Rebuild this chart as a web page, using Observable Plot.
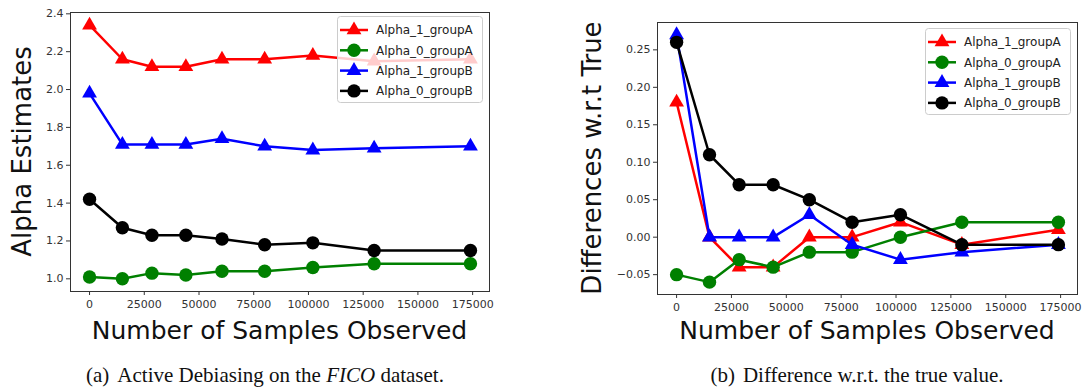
<!DOCTYPE html>
<html><head><meta charset="utf-8">
<script src="https://cdn.jsdelivr.net/npm/d3@7"></script>
<script src="https://cdn.jsdelivr.net/npm/@observablehq/plot@0.6"></script>
<style>
html,body{margin:0;padding:0;background:#fff;}
#wrap{position:relative;width:1084px;height:392px;overflow:hidden;background:#fff;font-family:"DejaVu Sans",sans-serif;}
.abs{position:absolute;}
</style></head><body><div id="wrap"></div>
<script>
// ---- data ----
const samples = [0, 15000, 28500, 44000, 60500, 80000, 102000, 130000, 174000];
const seriesNames = ["Alpha_1_groupA", "Alpha_0_groupA", "Alpha_1_groupB", "Alpha_0_groupB"];
// panel (a): alpha estimates
const alpha1A = [2.34, 2.16, 2.12, 2.12, 2.16, 2.16, 2.18, 2.15, 2.16];
const alpha0A = [1.01, 1.00, 1.03, 1.02, 1.04, 1.04, 1.06, 1.08, 1.08];
const alpha1B = [1.98, 1.71, 1.71, 1.71, 1.74, 1.70, 1.68, 1.69, 1.70];
const alpha0B = [1.42, 1.27, 1.23, 1.23, 1.21, 1.18, 1.19, 1.15, 1.15];
// panel (b): differences w.r.t. true value
const diff1A = [0.18, 0.00, -0.04, -0.04, 0.00, 0.00, 0.02, -0.01, 0.01];
const diff0A = [-0.05, -0.06, -0.03, -0.04, -0.02, -0.02, 0.00, 0.02, 0.02];
const diff1B = [0.27, 0.00, 0.00, 0.00, 0.03, -0.01, -0.03, -0.02, -0.01];
const diff0B = [0.26, 0.11, 0.07, 0.07, 0.05, 0.02, 0.03, -0.01, -0.01];
// ticks
const xTicks = [0, 25000, 50000, 75000, 100000, 125000, 150000, 175000];
const leftYTicks = [1.0, 1.2, 1.4, 1.6, 1.8, 2.0, 2.2, 2.4];
const rightYTicks = [-0.05, 0.00, 0.05, 0.10, 0.15, 0.20, 0.25];
// texts
const xTitle = "Number of Samples Observed";
const leftYTitle = "Alpha Estimates";
const rightYTitle = "Differences w.r.t True";

// ---- styles ----
const seriesColors = ["red", "green", "blue", "black"];
const seriesSymbols = ["triangle", "circle", "triangle", "circle"];
const symR = {triangle: 5.5, circle: 6.7};

function padExtent(vals) {
  const lo = d3.min(vals), hi = d3.max(vals), s = (hi - lo) * 0.05;
  return [lo - s, hi + s];
}
const fmtMinus = (d, k) => (d < -1e-12 ? "\u2212" : "") + Math.abs(d).toFixed(k);

function makePlot(values, yTicks, yDigits, width, height, m) {
  const table = seriesNames.flatMap((name, i) => values[i].map((v, j) => ({series: name, x: samples[j], y: v})));
  const marks = [];
  seriesNames.forEach((name, i) => {
    const d = table.filter(r => r.series === name);
    marks.push(Plot.line(d, {x: "x", y: "y", stroke: seriesColors[i], strokeWidth: 2.5, strokeLinejoin: "round"}));
    marks.push(Plot.dot(d, {x: "x", y: "y", fill: seriesColors[i], stroke: "none", symbol: seriesSymbols[i], r: symR[seriesSymbols[i]]}));
  });
  marks.push(Plot.frame({stroke: "#333", strokeWidth: 1}));
  marks.push(Plot.axisX({ticks: xTicks, tickFormat: d => String(d), tickSize: 4, tickPadding: 5, label: null}));
  marks.push(Plot.axisY({ticks: yTicks, tickFormat: d => fmtMinus(d, yDigits), tickSize: 4, tickPadding: 3, label: null}));
  return Plot.plot({
    width, height,
    marginLeft: m[0], marginRight: m[1], marginTop: m[2], marginBottom: m[3],
    x: {domain: padExtent(samples)},
    y: {domain: padExtent(values.flat())},
    style: {fontFamily: "DejaVu Sans", fontSize: "11px", color: "#333", background: "white", overflow: "visible"},
    marks
  });
}

const wrap = document.getElementById("wrap");

const left = makePlot([alpha1A, alpha0A, alpha1B, alpha0B], leftYTicks, 1, 540, 320, [70, 51, 12, 29]);
left.classList.add("abs"); left.style.left = "0px"; left.style.top = "0px";
wrap.appendChild(left);

const right = makePlot([diff1A, diff0A, diff1B, diff0B], rightYTicks, 2, 544, 320, [117, 7, 22, 26]);
right.classList.add("abs"); right.style.left = "540px"; right.style.top = "0px";
wrap.appendChild(right);

// ---- legends ----
function legend(x, y) {
  const w = 146, h = 87;
  const svg = d3.create("svg").attr("width", w).attr("height", h)
    .attr("class", "abs").style("left", x + "px").style("top", y + "px");
  svg.append("rect").attr("x", 0.5).attr("y", 0.5).attr("width", w - 1).attr("height", h - 1)
    .attr("rx", 3).attr("fill", "white").attr("fill-opacity", 0.8).attr("stroke", "#cccccc");
  seriesNames.forEach((name, i) => {
    const cy = 14 + i * 20.3;
    svg.append("line").attr("x1", 3).attr("x2", 31).attr("y1", cy).attr("y2", cy)
      .attr("stroke", seriesColors[i]).attr("stroke-width", 2.5);
    const sym = seriesSymbols[i] === "triangle" ? d3.symbolTriangle : d3.symbolCircle;
    svg.append("path").attr("transform", `translate(17,${cy})`)
      .attr("d", d3.symbol(sym, Math.PI * symR[seriesSymbols[i]] ** 2)())
      .attr("fill", seriesColors[i]);
    svg.append("text").attr("x", 39).attr("y", cy).attr("dy", "0.35em")
      .attr("font-family", "DejaVu Sans").attr("font-size", 12).attr("fill", "#222").text(name);
  });
  wrap.appendChild(svg.node());
}
legend(337, 16);
legend(925, 28);

// ---- titles and captions ----
const ov = d3.create("svg").attr("width", 1084).attr("height", 392).attr("class", "abs")
  .style("left", "0px").style("top", "0px").style("pointer-events", "none");
const T = (x, y, txt, rot, fs) => ov.append("text").attr("text-anchor", "middle")
  .attr("transform", `translate(${x},${y})` + (rot ? " rotate(-90)" : ""))
  .attr("font-family", "DejaVu Sans").attr("font-size", fs).attr("fill", "#111").text(txt);
T(279.5, 339, xTitle, false, 25);
T(867, 339, xTitle, false, 25);
T(31, 151.5, leftYTitle, true, 26);
T(601, 158, rightYTitle, true, 26);

function caption(x, label, parts) {
  const t = ov.append("text").attr("x", x).attr("y", 382).attr("text-anchor", "middle")
    .attr("font-family", "Liberation Serif").attr("font-size", 21).attr("fill", "#111");
  t.append("tspan").text(label);
  parts.forEach(([s, it], k) => {
    const ts = t.append("tspan").attr("font-style", it ? "italic" : "normal").text(s);
    if (k === 0) ts.attr("dx", 8);
  });
}
caption(265, "(a)", [["Active Debiasing on the ", false], ["FICO", true], [" dataset.", false]]);
caption(857, "(b)", [["Difference w.r.t. the true value.", false]]);
wrap.appendChild(ov.node());
</script></body></html>
